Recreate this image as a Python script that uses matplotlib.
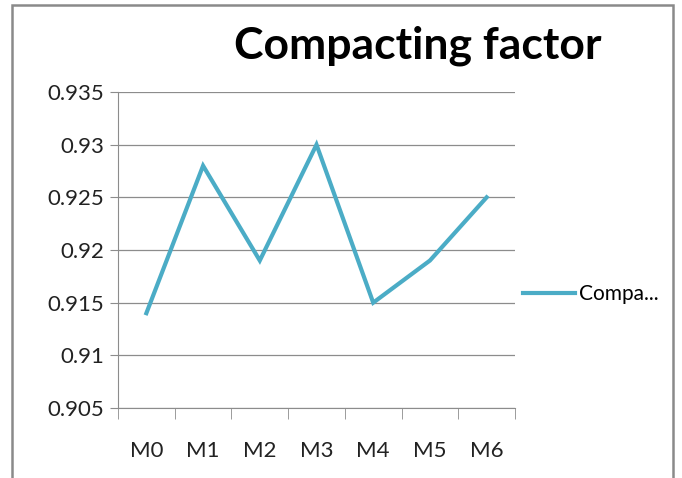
import matplotlib
matplotlib.use("Agg")
import matplotlib.pyplot as plt
from matplotlib.patches import Rectangle

categories = ["M0", "M1", "M2", "M3", "M4", "M5", "M6"]
compacting = [0.914, 0.928, 0.919, 0.930, 0.915, 0.919, 0.925]
yticks = [0.905, 0.91, 0.915, 0.92, 0.925, 0.93, 0.935]
ylabels = ["0.905", "0.91", "0.915", "0.92", "0.925", "0.93", "0.935"]

plt.rcParams["font.family"] = ["Lato", "DejaVu Sans"]

fig = plt.figure(figsize=(6.82, 4.78), dpi=100)
ax = fig.add_axes([118 / 682, 1 - 408 / 478, 397 / 682, 316 / 478])

x = list(range(len(categories)))
ax.plot(x, compacting, color="#4BACC6", lw=3.0, solid_joinstyle="miter",
        label="Compa...")

ax.set_xlim(-0.5, len(categories) - 0.5)
ax.set_ylim(yticks[0], yticks[-1])
ax.set_yticks(yticks)
ax.set_yticklabels(ylabels)
ax.set_xticks(x)
ax.set_xticklabels(categories)
ax.set_xticks([i - 0.5 for i in range(len(categories) + 1)], minor=True)

ax.grid(axis="y", color="#8c8c8c", lw=0.9)
ax.set_axisbelow(True)
for s in ["top", "right"]:
    ax.spines[s].set_visible(False)
ax.spines["left"].set_color("#8c8c8c")
ax.spines["bottom"].set_color("#8c8c8c")
ax.tick_params(axis="y", length=6, color="#8c8c8c", labelsize=16,
               labelcolor="#222222", pad=4)
ax.tick_params(axis="x", which="major", length=0, labelsize=16,
               labelcolor="#222222", pad=24)
ax.tick_params(axis="x", which="minor", length=8, color="#8c8c8c")

fig.text(418 / 682, 1 - 46 / 478, "Compacting factor", ha="center",
         va="center", fontsize=32, fontweight="bold")

ax.legend(loc="center left", bbox_to_anchor=(1.0, 0.36), frameon=False,
          fontsize=15, handlelength=2.5, handletextpad=0.15,
          borderaxespad=0.0)

fig.patches.append(Rectangle((12 / 682, -0.05), 661 / 682, 1 - 5 / 478 + 0.05,
                             transform=fig.transFigure, fill=False,
                             edgecolor="#8a8a8a", lw=1.8))

fig.savefig("out.png", dpi=100)
